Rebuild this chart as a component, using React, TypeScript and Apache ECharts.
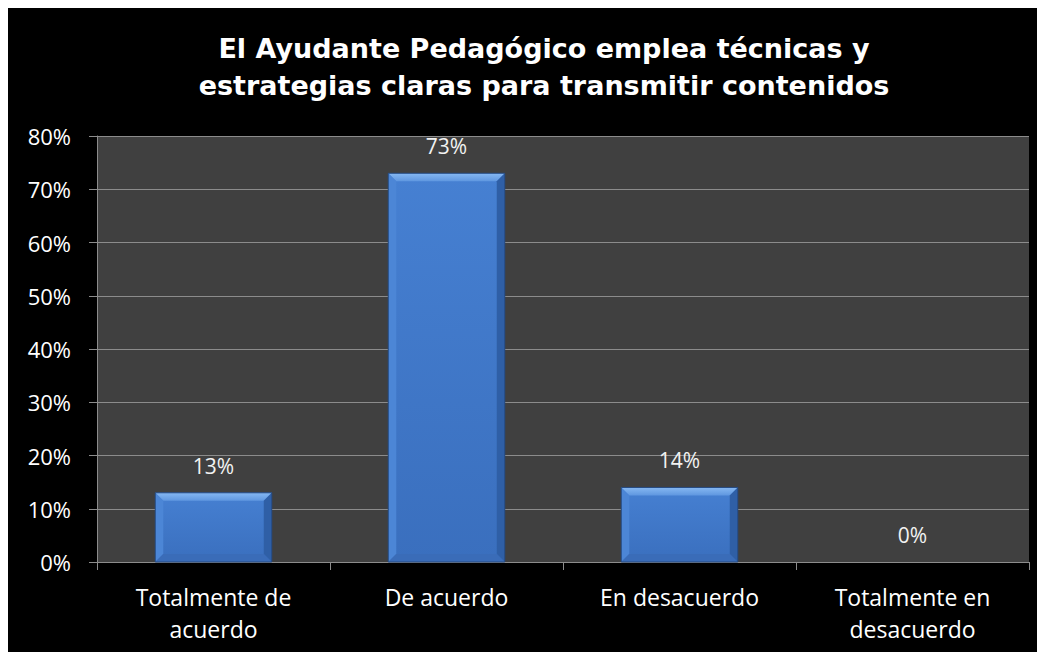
import React, { useEffect, useRef } from "react";
import * as echarts from "echarts";

const titleLines = [
  "El Ayudante Pedagógico emplea técnicas y",
  "estrategias claras para transmitir contenidos",
];
const categories = [
  "Totalmente de\nacuerdo",
  "De acuerdo",
  "En desacuerdo",
  "Totalmente en\ndesacuerdo",
];
const values = [13, 73, 14, 0];
const yMax = 80;
const yInterval = 10;

const FONT = "'Open Sans', Lato, sans-serif";

export default function App() {
  const ref = useRef<HTMLDivElement>(null);
  useEffect(() => {
    if (!ref.current) return;
    const chart = echarts.init(ref.current, null, { renderer: "svg" });
    const renderItem = (params: any, api: any) => {
      const xi = api.value(0);
      const v = api.value(1);
      const top = api.coord([xi, v]);
      const base = api.coord([xi, 0]);
      const bw = api.size([1, 0])[0] * 0.5;
      const l = top[0] - bw / 2;
      const r = top[0] + bw / 2;
      const t = top[1];
      const b = base[1];
      const h = b - t;
      const children: any[] = [];
      if (h > 0.5) {
        const bv = Math.min(8, h / 2);
        children.push({
          type: "rect",
          shape: { x: l, y: t, width: bw, height: h },
          style: {
            fill: new echarts.graphic.LinearGradient(0, 0, 0, 1, [
              { offset: 0, color: "#4680d2" },
              { offset: 1, color: "#3a6fbe" },
            ]),
          },
        });
        children.push({
          type: "polygon",
          shape: { points: [[l, t], [r, t], [r - bv, t + bv], [l + bv, t + bv]] },
          style: {
            fill: new echarts.graphic.LinearGradient(0, 0, 0, 1, [
              { offset: 0, color: "#86b8f2" },
              { offset: 1, color: "#5f97e0" },
            ]),
          },
        });
        children.push({
          type: "polygon",
          shape: { points: [[l, t], [l + bv, t + bv], [l + bv, b - bv], [l, b]] },
          style: { fill: "#4c86d6" },
        });
        children.push({
          type: "polygon",
          shape: { points: [[r, t], [r - bv, t + bv], [r - bv, b - bv], [r, b]] },
          style: { fill: "#2f5fa6" },
        });
        children.push({
          type: "polygon",
          shape: { points: [[l, b], [l + bv, b - bv], [r - bv, b - bv], [r, b]] },
          style: { fill: "#3a6cb8" },
        });
        children.push({
          type: "rect",
          shape: { x: l, y: t, width: bw, height: h },
          style: { fill: "none", stroke: "#25497f", lineWidth: 1 },
        });
      }
      children.push({
        type: "text",
        style: {
          text: v + "%",
          x: top[0],
          y: t - 27,
          textAlign: "center",
          textVerticalAlign: "middle",
          fill: "#f2f2f2",
          font: `21px ${FONT}`,
        },
      });
      return { type: "group", children };
    };
    chart.setOption({
      animation: false,
      backgroundColor: "#000000",
      title: {
        text: titleLines.join("\n"),
        left: 531,
        textAlign: "center",
        top: 17,
        textStyle: {
          color: "#ffffff",
          fontSize: 27,
          fontWeight: "bold",
          fontFamily: "'DejaVu Sans', Arial, sans-serif",
          lineHeight: 37,
        },
      },
      grid: {
        left: 89,
        top: 128,
        right: 16,
        bottom: 90,
        show: true,
        backgroundColor: "#404040",
        borderWidth: 0,
      },
      xAxis: {
        type: "category",
        data: categories,
        axisLine: { show: true, lineStyle: { color: "#8c8c8c", width: 1 } },
        axisTick: { show: true, length: 8, alignWithLabel: false, lineStyle: { color: "#8c8c8c" } },
        axisLabel: {
          color: "#ffffff",
          fontSize: 23,
          fontFamily: FONT,
          lineHeight: 32,
          margin: 19,
          interval: 0,
        },
      },
      yAxis: {
        type: "value",
        min: 0,
        max: yMax,
        interval: yInterval,
        axisLine: { show: true, lineStyle: { color: "#8c8c8c", width: 1 } },
        axisTick: { show: true, length: 8, lineStyle: { color: "#8c8c8c" } },
        axisLabel: {
          color: "#ffffff",
          fontSize: 22,
          fontFamily: FONT,
          margin: 26,
          formatter: "{value}%",
        },
        splitLine: { show: true, lineStyle: { color: "#8c8c8c", width: 1 } },
      },
      series: [
        {
          type: "custom",
          renderItem,
          data: values.map((v, i) => [i, v]),
          encode: { x: 0, y: 1 },
          clip: false,
        },
      ],
    });
    return () => chart.dispose();
  }, []);
  return (
    <div
      ref={ref}
      style={{ width: 1037, height: 644, background: "#000" }}
    />
  );
}
